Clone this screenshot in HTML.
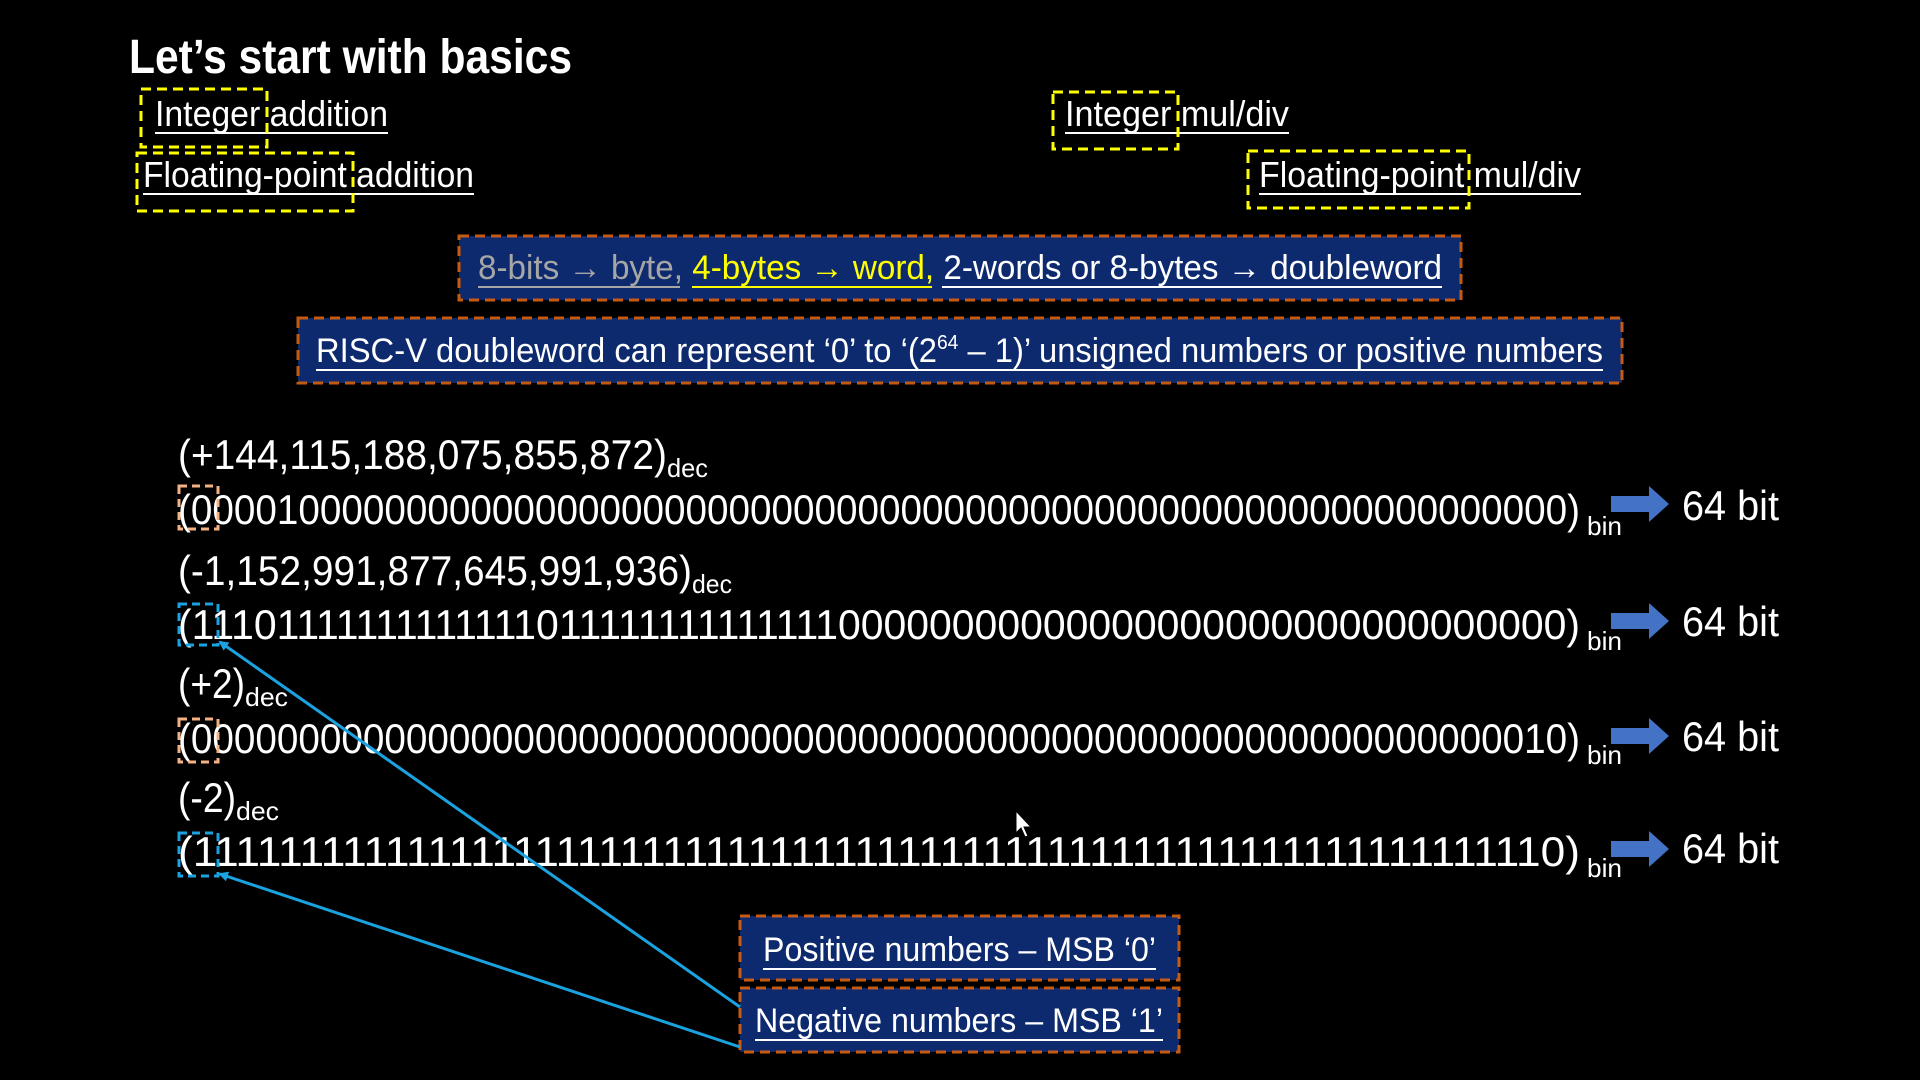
<!DOCTYPE html>
<html><head><meta charset="utf-8"><style>
html,body{margin:0;padding:0;background:#000;}
svg{display:block;}
text{font-family:"Liberation Sans",sans-serif;fill:#fff;}
</style></head><body>
<svg width="1920" height="1080" viewBox="0 0 1920 1080" xmlns="http://www.w3.org/2000/svg">
<defs>
<marker id="ah" markerWidth="10" markerHeight="10" refX="8" refY="5" orient="auto" markerUnits="userSpaceOnUse">
<path d="M0,0 L10,5 L0,10 z" fill="#1aa3e0"/></marker>
</defs>
<rect width="1920" height="1080" fill="#000"/>
<text x="129" y="73" font-size="48" font-weight="bold" textLength="443" lengthAdjust="spacingAndGlyphs">Let’s start with basics</text>

<g font-size="36">
<text x="155" y="126" textLength="233" lengthAdjust="spacingAndGlyphs">Integer addition</text>
<line x1="155" y1="133" x2="388" y2="133" stroke="#fff" stroke-width="2"/>
<text x="143" y="187" textLength="331" lengthAdjust="spacingAndGlyphs">Floating-point addition</text>
<line x1="143" y1="194" x2="474" y2="194" stroke="#fff" stroke-width="2"/>
<text x="1065" y="126" textLength="224" lengthAdjust="spacingAndGlyphs">Integer mul/div</text>
<line x1="1065" y1="133" x2="1289" y2="133" stroke="#fff" stroke-width="2"/>
<text x="1259" y="187" textLength="322" lengthAdjust="spacingAndGlyphs">Floating-point mul/div</text>
<line x1="1259" y1="194" x2="1581" y2="194" stroke="#fff" stroke-width="2"/>
</g>
<g fill="none" stroke="#ffff00" stroke-width="3" stroke-dasharray="10,6">
<rect x="141" y="89" width="126" height="58"/>
<rect x="137" y="153" width="216" height="58"/>
<rect x="1053" y="92" width="125" height="57"/>
<rect x="1248" y="151" width="221" height="57"/>
</g>

<rect x="459" y="236" width="1002" height="64" fill="#0e2a6e" stroke="#c55a11" stroke-width="3" stroke-dasharray="10,6"/>
<text y="279" font-size="34" textLength="964" x="478" lengthAdjust="spacingAndGlyphs"><tspan fill="#a6a6a6">8-bits → byte, </tspan><tspan fill="#ffff00">4-bytes → word, </tspan><tspan fill="#fff">2-words or 8-bytes → doubleword</tspan></text>
<line x1="478" y1="287" x2="680" y2="287" stroke="#a6a6a6" stroke-width="2"/>
<line x1="692" y1="287" x2="932" y2="287" stroke="#ffff00" stroke-width="2"/>
<line x1="942" y1="287" x2="1442" y2="287" stroke="#fff" stroke-width="2"/>

<rect x="298" y="318" width="1324" height="65" fill="#0e2a6e" stroke="#c55a11" stroke-width="3" stroke-dasharray="10,6"/>
<text x="316" y="362" font-size="34" textLength="1287" lengthAdjust="spacingAndGlyphs">RISC-V doubleword can represent ‘0’ to ‘(2<tspan font-size="20" dy="-13">64</tspan><tspan dy="13"> – 1)’ unsigned numbers or positive numbers</tspan></text>
<line x1="316" y1="370" x2="1603" y2="370" stroke="#fff" stroke-width="2"/>

<g font-size="42">
<text x="178" y="469" textLength="489" lengthAdjust="spacingAndGlyphs">(+144,115,188,075,855,872)</text>
<text x="667" y="477" font-size="26" textLength="41" lengthAdjust="spacingAndGlyphs">dec</text>
<text x="178" y="524" textLength="1402" lengthAdjust="spacingAndGlyphs">(0000100000000000000000000000000000000000000000000000000000000000)</text>
<text x="1587" y="535" font-size="26" textLength="35" lengthAdjust="spacingAndGlyphs">bin</text>

<text x="178" y="585" textLength="514" lengthAdjust="spacingAndGlyphs">(-1,152,991,877,645,991,936)</text>
<text x="692" y="593" font-size="26" textLength="40" lengthAdjust="spacingAndGlyphs">dec</text>
<text x="178" y="639" textLength="1402" lengthAdjust="spacingAndGlyphs">(1110111111111111101111111111111100000000000000000000000000000000)</text>
<text x="1587" y="650" font-size="26" textLength="35" lengthAdjust="spacingAndGlyphs">bin</text>

<text x="178" y="698" textLength="67" lengthAdjust="spacingAndGlyphs">(+2)</text>
<text x="245" y="706" font-size="26" textLength="43" lengthAdjust="spacingAndGlyphs">dec</text>
<text x="178" y="753" textLength="1402" lengthAdjust="spacingAndGlyphs">(0000000000000000000000000000000000000000000000000000000000000010)</text>
<text x="1587" y="764" font-size="26" textLength="35" lengthAdjust="spacingAndGlyphs">bin</text>

<text x="178" y="812" textLength="58" lengthAdjust="spacingAndGlyphs">(-2)</text>
<text x="236" y="820" font-size="26" textLength="43" lengthAdjust="spacingAndGlyphs">dec</text>
<text x="178" y="866" textLength="1402" lengthAdjust="spacingAndGlyphs">(1111111111111111111111111111111111111111111111111111111111111110)</text>
<text x="1587" y="877" font-size="26" textLength="35" lengthAdjust="spacingAndGlyphs">bin</text>

<text x="1682" y="520" textLength="97" lengthAdjust="spacingAndGlyphs">64 bit</text>
<text x="1682" y="636" textLength="97" lengthAdjust="spacingAndGlyphs">64 bit</text>
<text x="1682" y="751" textLength="97" lengthAdjust="spacingAndGlyphs">64 bit</text>
<text x="1682" y="863" textLength="97" lengthAdjust="spacingAndGlyphs">64 bit</text>
</g>

<g fill="#4472c4">
<path d="M1611,496 h38 v-10 l20,18 l-20,18 v-10 h-38 z"/>
<path d="M1611,613 h38 v-10 l20,18 l-20,18 v-10 h-38 z"/>
<path d="M1611,728 h38 v-10 l20,18 l-20,18 v-10 h-38 z"/>
<path d="M1611,841 h38 v-10 l20,18 l-20,18 v-10 h-38 z"/>
</g>

<g fill="none" stroke-width="3" stroke-dasharray="8,5">
<rect x="179" y="486" width="39" height="43" stroke="#f4b183"/>
<rect x="179" y="604" width="39" height="41" stroke="#1aa3e0"/>
<rect x="179" y="719" width="39" height="43" stroke="#f4b183"/>
<rect x="179" y="833" width="39" height="43" stroke="#1aa3e0"/>
</g>

<rect x="740" y="916" width="439" height="64" fill="#0e2a6e" stroke="#c55a11" stroke-width="3" stroke-dasharray="10,6"/>
<text x="763" y="961" font-size="34" textLength="393" lengthAdjust="spacingAndGlyphs">Positive numbers – MSB ‘0’</text>
<line x1="763" y1="969" x2="1156" y2="969" stroke="#fff" stroke-width="2"/>
<rect x="740" y="988" width="439" height="64" fill="#0e2a6e" stroke="#c55a11" stroke-width="3" stroke-dasharray="10,6"/>
<text x="755" y="1032" font-size="34" textLength="408" lengthAdjust="spacingAndGlyphs">Negative numbers – MSB ‘1’</text>
<line x1="755" y1="1040" x2="1163" y2="1040" stroke="#fff" stroke-width="2"/>

<line x1="740" y1="1007" x2="220" y2="642" stroke="#1aa3e0" stroke-width="3" marker-end="url(#ah)"/>
<line x1="740" y1="1047" x2="220" y2="874" stroke="#1aa3e0" stroke-width="3" marker-end="url(#ah)"/>

<path d="M1016,811 v22 l5,-5 l4,9 l3,-1 l-4,-9 h7 z" fill="#fff" stroke="#000" stroke-width="1"/>
</svg>
</body></html>
